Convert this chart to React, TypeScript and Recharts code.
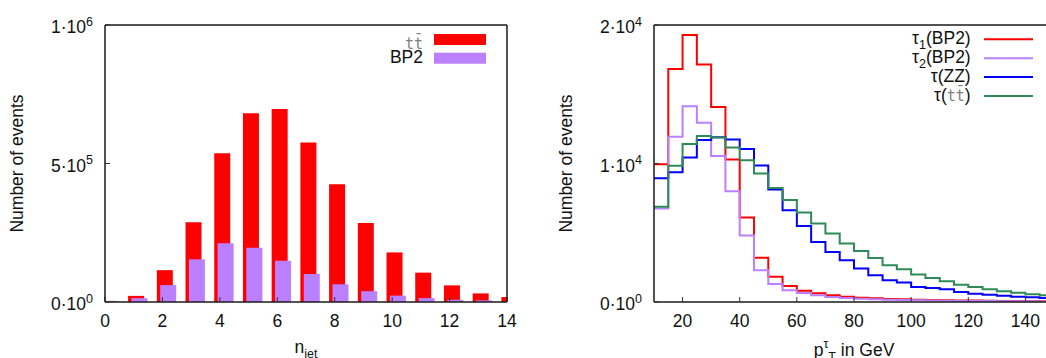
import React from "react";
import { BarChart, Bar, LineChart, Line, XAxis, YAxis, Legend } from "recharts";

const FONT = '"Liberation Sans", Arial, Helvetica, sans-serif';
const MONO = '"DejaVu Sans Mono", "Liberation Mono", monospace';

// left panel: jet multiplicity
const nJet = [0, 1, 2, 3, 4, 5, 6, 7, 8, 9, 10, 11, 12, 13, 14];
const ttbarJets = [4000, 22000, 115000, 288000, 537000, 681000, 697000, 576000, 425000, 285000, 179000, 106000, 60000, 31000, 18000];
const bp2Jets = [3000, 14000, 61000, 154000, 212000, 196000, 149000, 101000, 64000, 39000, 23000, 14000, 8000, 6000, 2000];
const nJetTicks = [0, 2, 4, 6, 8, 10, 12, 14];
const jetYTicks = [0, 500000, 1000000];

// right panel: tau pT, 5 GeV bins (lower edges)
const ptBinLow = [10, 15, 20, 25, 30, 35, 40, 45, 50, 55, 60, 65, 70, 75, 80, 85, 90, 95, 100, 105, 110, 115, 120, 125, 130, 135, 140, 145];
const ptBinWidth = 5;
const tau1BP2 = [9950, 16820, 19280, 17150, 14080, 10290, 6110, 3200, 1830, 1150, 820, 630, 480, 385, 310, 265, 215, 190, 170, 145, 125, 115, 100, 90, 80, 70, 65, 60];
const tau2BP2 = [6750, 11930, 14140, 12940, 10550, 8000, 4800, 2290, 1300, 850, 650, 480, 360, 290, 240, 200, 170, 145, 125, 105, 95, 85, 75, 65, 60, 55, 50, 45];
const tauZZ = [8940, 9370, 10430, 11690, 11900, 11740, 11040, 9860, 8120, 6630, 5490, 4340, 3610, 3010, 2410, 1930, 1570, 1400, 1080, 1010, 915, 720, 600, 530, 460, 385, 340, 290];
const tauTT = [6870, 9830, 11400, 11980, 11880, 11160, 10240, 9280, 8240, 7370, 6460, 5660, 4940, 4220, 3690, 3180, 2650, 2360, 1980, 1730, 1490, 1250, 1080, 915, 770, 675, 555, 480];
const ptTicks = [20, 40, 60, 80, 100, 120, 140];
const ptYTicks = [0, 10000, 20000];

const jetRows = nJet.map((n, i) => ({ n, ttbar: ttbarJets[i], bp2: bp2Jets[i] }));
const last = ptBinLow.length - 1;
const ptRows = ptBinLow.map((pt, i) => ({ pt, tau1: tau1BP2[i], tau2: tau2BP2[i], zz: tauZZ[i], tt: tauTT[i] }));
// closing edge of the last bin so the step runs to 150
ptRows.push({ pt: ptBinLow[last] + ptBinWidth, tau1: tau1BP2[last], tau2: tau2BP2[last], zz: tauZZ[last], tt: tauTT[last] });

const TXT = "#111";
const FRAME = "#1a1a1a";

function PowTick(props: any) {
  const { x, y, payload } = props;
  const v = Number(payload.value);
  const exp = v === 0 ? 0 : Math.floor(Math.log10(v) + 1e-9);
  const man = v === 0 ? 0 : Math.round(v / Math.pow(10, exp));
  return (
    <text x={x} y={y + 8} textAnchor="end" fontSize={17.5} fill={TXT}>
      {man}·10<tspan fontSize={12.5} dy={-7.5}>{exp}</tspan>
    </text>
  );
}

const yTitle = (dx: number) => (props: any) => {
  const vb = props.viewBox || { x: 0, y: 0, height: 0 };
  const cx = vb.x + dx;
  const cy = vb.y + vb.height / 2;
  return (
    <text x={cx} y={cy} transform={`rotate(-90 ${cx} ${cy})`} textAnchor="middle" fontSize={17.5} fill={TXT}>
      Number of events
    </text>
  );
};

const xTitleJet = (props: any) => {
  const vb = props.viewBox || { x: 0, y: 0, width: 0 };
  return (
    <text x={vb.x + vb.width / 2} y={vb.y + 51} textAnchor="middle" fontSize={17.5} fill={TXT}>
      n<tspan fontSize={12.5} dy={5}>jet</tspan>
    </text>
  );
};

const xTitlePt = (props: any) => {
  const vb = props.viewBox || { x: 0, y: 0, width: 0 };
  return (
    <text x={vb.x + vb.width / 2} y={vb.y + 54} textAnchor="middle" fontSize={17.5} fill={TXT}>
      p<tspan fontSize={12.5} dy={-8}>τ</tspan>
      <tspan fontSize={12.5} dy={13}>T</tspan>
      <tspan dy={-5}>{" in GeV"}</tspan>
    </text>
  );
};

const ttGlyph = (size: number) => (
  <tspan fontFamily={MONO} fontSize={size} fill="#808080">{"tt\u0304"}</tspan>
);

function legendName(key: string) {
  switch (key) {
    case "ttbar":
      return ttGlyph(15);
    case "bp2":
      return "BP2";
    case "tau1":
      return <>τ<tspan fontSize={12.5} dy={5}>1</tspan><tspan dy={-5}>(BP2)</tspan></>;
    case "tau2":
      return <>τ<tspan fontSize={12.5} dy={5}>2</tspan><tspan dy={-5}>(BP2)</tspan></>;
    case "zz":
      return "τ(ZZ)";
    default:
      return <>τ({ttGlyph(15)})</>;
  }
}

const jetOrder = ["ttbar", "bp2"];
const ptOrder = ["tau1", "tau2", "zz", "tt"];

function JetLegend(props: any) {
  const items = [...(props.payload || [])].sort(
    (a: any, b: any) => jetOrder.indexOf(a.dataKey) - jetOrder.indexOf(b.dataKey)
  );
  return (
    <svg width={160} height={46}>
      {items.map((it: any, i: number) => {
        const yc = 14.5 + i * 18.7;
        return (
          <g key={it.dataKey}>
            <text x={83} y={yc + (i === 0 ? 9 : 4.5)} textAnchor="end" fontSize={17.5} fill={TXT}>
              {legendName(it.dataKey)}
            </text>
            <rect x={94} y={yc - 5.5} width={52} height={11} fill={it.color} />
          </g>
        );
      })}
    </svg>
  );
}

function PtLegend(props: any) {
  const items = [...(props.payload || [])].sort(
    (a: any, b: any) => ptOrder.indexOf(a.dataKey) - ptOrder.indexOf(b.dataKey)
  );
  return (
    <svg width={170} height={92}>
      {items.map((it: any, i: number) => {
        const yc = 14.3 + i * 18.9;
        return (
          <g key={it.dataKey}>
            <text x={90.7} y={yc + 4.5} textAnchor="end" fontSize={17.5} fill={TXT}>
              {legendName(it.dataKey)}
            </text>
            <line x1={104} x2={153} y1={yc} y2={yc} stroke={it.color} strokeWidth={2} />
          </g>
        );
      })}
    </svg>
  );
}

function JetPanel() {
  const al = { stroke: FRAME, strokeWidth: 1.5 };
  const tl = { stroke: "#333", strokeWidth: 1 };
  return (
    <div style={{ position: "relative", width: 530, height: 358, flex: "none" }}>
      <BarChart width={520} height={358} data={jetRows} margin={{ top: 25, right: 13, bottom: 0, left: 10 }} barGap={-12.6}>
        <XAxis xAxisId="bars" type="number" dataKey="n" domain={[-0.13, 13.87]} allowDataOverflow hide height={0} />
        <Bar xAxisId="bars" yAxisId="y" dataKey="ttbar" name="ttbar" fill="#ff0000" barSize={16} isAnimationActive={false} />
        <Bar xAxisId="bars" yAxisId="y" dataKey="bp2" name="BP2" fill="#bb80ff" barSize={16} isAnimationActive={false} />
        <XAxis xAxisId="lbl" type="number" domain={[0, 14]} ticks={nJetTicks} interval={0} allowDataOverflow height={56}
          tickSize={-5} tickMargin={18} tick={{ fontSize: 17.5, fill: TXT }} axisLine={al} tickLine={tl} label={xTitleJet} />
        <XAxis xAxisId="top" orientation="top" type="number" domain={[0, 14]} ticks={nJetTicks} interval={0} allowDataOverflow
          mirror tick={false} tickSize={5} axisLine={al} tickLine={tl} />
        <YAxis yAxisId="y" type="number" domain={[0, 1000000]} ticks={jetYTicks} interval={0} allowDataOverflow width={95}
          tickSize={-5} tickMargin={17} tick={PowTick} axisLine={al} tickLine={tl} label={yTitle(13)} />
        <YAxis yAxisId="yr" orientation="right" type="number" domain={[0, 1000000]} ticks={jetYTicks} interval={0} allowDataOverflow
          mirror tick={false} tickSize={5} axisLine={al} tickLine={tl} />
        <Legend content={JetLegend} layout="vertical" align="center" verticalAlign="middle"
          wrapperStyle={{ left: 340, top: 25, width: 160, height: 46 }} />
      </BarChart>
    </div>
  );
}

function PtPanel() {
  const al = { stroke: FRAME, strokeWidth: 1.5 };
  const tl = { stroke: "#333", strokeWidth: 1 };
  return (
    <div style={{ position: "relative", width: 540, height: 358, flex: "none" }}>
      <LineChart width={540} height={358} data={ptRows} margin={{ top: 25, right: 16, bottom: 0, left: 10 }}>
        <XAxis xAxisId="x" type="number" dataKey="pt" domain={[10, 150]} ticks={ptTicks} interval={0} allowDataOverflow height={56}
          tickSize={-5} tickMargin={18} tick={{ fontSize: 17.5, fill: TXT }} axisLine={al} tickLine={tl} label={xTitlePt} />
        <XAxis xAxisId="top" orientation="top" type="number" domain={[10, 150]} ticks={ptTicks} interval={0} allowDataOverflow
          mirror tick={false} tickSize={5} axisLine={al} tickLine={tl} />
        <YAxis yAxisId="y" type="number" domain={[0, 20000]} ticks={ptYTicks} interval={0} allowDataOverflow width={114}
          tickSize={-5} tickMargin={17} tick={PowTick} axisLine={al} tickLine={tl} label={yTitle(31.5)} />
        <Line xAxisId="x" yAxisId="y" type="stepAfter" dataKey="tau1" name="tau1 (BP2)" stroke="#ff0000" strokeWidth={2} dot={false} isAnimationActive={false} />
        <Line xAxisId="x" yAxisId="y" type="stepAfter" dataKey="tau2" name="tau2 (BP2)" stroke="#bb80ff" strokeWidth={2} dot={false} isAnimationActive={false} />
        <Line xAxisId="x" yAxisId="y" type="stepAfter" dataKey="zz" name="tau (ZZ)" stroke="#0000ff" strokeWidth={2} dot={false} isAnimationActive={false} />
        <Line xAxisId="x" yAxisId="y" type="stepAfter" dataKey="tt" name="tau (ttbar)" stroke="#2e8b57" strokeWidth={2} dot={false} isAnimationActive={false} />
        <Legend content={PtLegend} layout="vertical" align="center" verticalAlign="middle"
          wrapperStyle={{ left: 350, top: 25, width: 170, height: 92 }} />
      </LineChart>
    </div>
  );
}

export default function App() {
  return (
    <div style={{ position: "absolute", left: 0, top: 0, width: 1046, height: 358, overflow: "hidden", background: "#fff", fontFamily: FONT, display: "flex" }}>
      <JetPanel />
      <PtPanel />
    </div>
  );
}
